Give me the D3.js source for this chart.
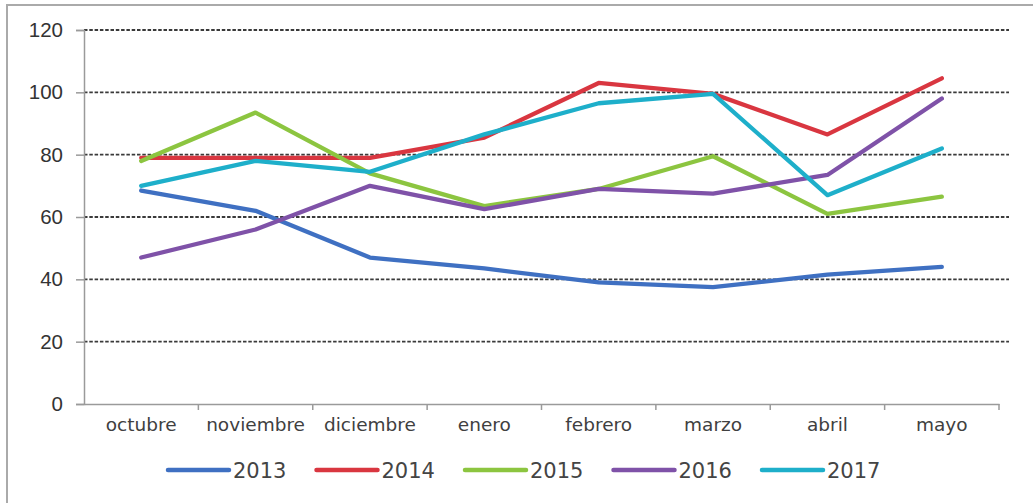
<!DOCTYPE html>
<html>
<head>
<meta charset="utf-8">
<script src="https://d3js.org/d3.v7.min.js"></script>
<style>
  html, body { margin: 0; padding: 0; background: #fff; }
  svg { display: block; }
</style>
</head>
<body>
<script>
const months = ["octubre", "noviembre", "diciembre", "enero", "febrero", "marzo", "abril", "mayo"];
const seriesNames = ["2013", "2014", "2015", "2016", "2017"];
const values2013 = [68.5, 62, 47, 43.5, 39, 37.5, 41.5, 44];
const values2014 = [79, 79, 79, 85.5, 103, 99.5, 86.5, 104.5];
const values2015 = [78, 93.5, 74, 63.5, 69, 79.5, 61, 66.5];
const values2016 = [47, 56, 70, 62.5, 69, 67.5, 73.5, 98];
const values2017 = [70, 78, 74.5, 86.5, 96.5, 99.5, 67, 82];
const yTicks = [0, 20, 40, 60, 80, 100, 120];
const colors = ["#3f70c2", "#d93640", "#8cc540", "#7f52a8", "#1eafca"];

const allValues = [values2013, values2014, values2015, values2016, values2017];

const W = 1033, H = 503;
const svg = d3.select("body").append("svg").attr("width", W).attr("height", H);

// outer frame
svg.append("path")
  .attr("d", `M7,${H + 5} V5 H${W + 5}`)
  .attr("fill", "none").attr("stroke", "#aaaaaa").attr("stroke-width", 2);

const mLeft = 84, mRight = 999, mTop = 30, mBottom = 404;
const x = d3.scaleBand().domain(months).range([mLeft, mRight]).padding(0);
const y = d3.scaleLinear().domain([0, 120]).range([mBottom, mTop]);

// gridlines
svg.append("g").selectAll("line").data(yTicks.filter(d => d > 0)).join("line")
  .attr("x1", mLeft).attr("x2", 1009)
  .attr("y1", d => y(d)).attr("y2", d => y(d))
  .attr("stroke", "#3a3a3a").attr("stroke-width", 1.8)
  .attr("stroke-dasharray", "3.5,1.8");

// y axis
const yAxis = d3.axisLeft(y).tickValues(yTicks).tickSize(8).tickPadding(13);
const gy = svg.append("g").attr("transform", `translate(${mLeft},0)`).call(yAxis);
gy.select(".domain").attr("stroke", "#9a9a9a").attr("stroke-width", 1.5);
gy.selectAll(".tick line").attr("stroke", "#9a9a9a").attr("stroke-width", 1.5);
gy.selectAll("text").attr("font-family", "Liberation Sans, Arial, sans-serif")
  .attr("font-size", 20.5).attr("fill", "#333");

// x axis
const xAxis = d3.axisBottom(x).tickSize(0).tickPadding(14);
const gx = svg.append("g").attr("transform", `translate(0,${mBottom})`).call(xAxis);
gx.select(".domain").attr("stroke", "#9a9a9a").attr("stroke-width", 1.5);
gx.selectAll("text").attr("font-family", "DejaVu Sans, Verdana, sans-serif")
  .attr("font-size", 18.5).attr("fill", "#404040");
// band boundary ticks
const edges = months.map(m => x(m)).concat([x(months[months.length - 1]) + x.bandwidth()]);
gx.append("g").selectAll("line").data(edges.slice(1)).join("line")
  .attr("x1", d => d).attr("x2", d => d).attr("y1", 0).attr("y2", 6)
  .attr("stroke", "#9a9a9a").attr("stroke-width", 1.5);

// lines
const line = d3.line()
  .x((d, i) => x(months[i]) + x.bandwidth() / 2)
  .y(d => y(d));

svg.append("g").selectAll("path").data(allValues).join("path")
  .attr("d", d => line(d))
  .attr("fill", "none")
  .attr("stroke", (d, i) => colors[i])
  .attr("stroke-width", 4.3)
  .attr("stroke-linejoin", "round")
  .attr("stroke-linecap", "round");

// legend
const legend = svg.append("g").attr("transform", "translate(168,470)");
const items = legend.selectAll("g").data(seriesNames).join("g")
  .attr("transform", (d, i) => `translate(${i * 148.5},0)`);
items.append("line").attr("x1", 0).attr("x2", 61).attr("y1", 0).attr("y2", 0)
  .attr("stroke", (d, i) => colors[i]).attr("stroke-width", 4.5).attr("stroke-linecap", "round");
items.append("text").attr("x", 65).attr("y", 0).attr("dy", "0.36em")
  .attr("font-family", "DejaVu Sans, Verdana, sans-serif").attr("font-size", 21)
  .attr("fill", "#444").text(d => d);
</script>
</body>
</html>
